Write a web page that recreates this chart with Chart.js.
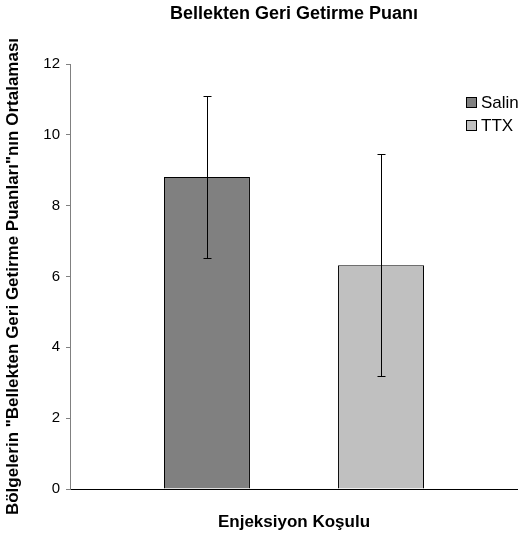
<!DOCTYPE html>
<html>
<head>
<meta charset="utf-8">
<script src="https://cdn.jsdelivr.net/npm/chart.js@4.4.0/dist/chart.umd.min.js"></script>
<style>
  html, body { margin: 0; padding: 0; background: #ffffff; }
  #wrap { width: 518px; height: 536px; overflow: hidden; }
</style>
</head>
<body>
<div id="wrap"><canvas id="c" width="518" height="536"></canvas></div>
<script>
// ---- Data ----
const categories = [''];
const seriesNames = ['Salin', 'TTX'];
const salinMean = [8.81];
const ttxMean = [6.32];
const salinErrLow = [6.52];
const salinErrHigh = [11.10];
const ttxErrLow = [3.19];
const ttxErrHigh = [9.46];
const yTicks = [0, 2, 4, 6, 8, 10, 12];
const chartTitle = 'Bellekten Geri Getirme Puanı';
const xTitle = 'Enjeksiyon Koşulu';
const yTitle = 'Bölgelerin "Bellekten Geri Getirme Puanları"nın Ortalaması';

const FONT = "'Liberation Sans', Arial, sans-serif";
const errLows = [salinErrLow, ttxErrLow];
const errHighs = [salinErrHigh, ttxErrHigh];

const errorBarPlugin = {
  id: 'errorBars',
  afterDatasetsDraw(chart) {
    const ctx = chart.ctx;
    const yScale = chart.scales.y;
    ctx.save();
    ctx.strokeStyle = '#000000';
    ctx.lineWidth = 1;
    chart.data.datasets.forEach((ds, i) => {
      const meta = chart.getDatasetMeta(i);
      meta.data.forEach((el, j) => {
        const x = Math.round(el.x) + 0.5;
        const yH = Math.round(yScale.getPixelForValue(errHighs[i][j])) + 0.5;
        const yL = Math.round(yScale.getPixelForValue(errLows[i][j])) + 0.5;
        ctx.beginPath();
        ctx.moveTo(x, yH); ctx.lineTo(x, yL);
        ctx.moveTo(x - 4, yH); ctx.lineTo(x + 4, yH);
        ctx.moveTo(x - 4, yL); ctx.lineTo(x + 4, yL);
        ctx.stroke();
      });
    });
    ctx.restore();
  }
};

const legendPlugin = {
  id: 'overlayLegend',
  afterDraw(chart) {
    const ctx = chart.ctx;
    ctx.save();
    ctx.font = '17px ' + FONT;
    ctx.textBaseline = 'middle';
    ctx.textAlign = 'left';
    chart.data.datasets.forEach((ds, i) => {
      const bx = 466, by = 97 + i * 23;
      ctx.fillStyle = ds.backgroundColor;
      ctx.fillRect(bx, by, 11, 11);
      ctx.strokeStyle = '#000000';
      ctx.lineWidth = 1;
      ctx.strokeRect(bx + 0.5, by + 0.5, 10, 10);
      ctx.fillStyle = '#000000';
      ctx.fillText(ds.label, bx + 15, by + 6.5);
    });
    ctx.restore();
  }
};

new Chart(document.getElementById('c'), {
  type: 'bar',
  data: {
    labels: categories,
    datasets: [
      { label: seriesNames[0], data: salinMean, backgroundColor: '#808080', borderColor: '#000000', borderWidth: 1 },
      { label: seriesNames[1], data: ttxMean, backgroundColor: '#c0c0c0', borderColor: '#000000', borderWidth: 1 }
    ]
  },
  options: {
    responsive: false,
    animation: false,
    devicePixelRatio: 1,
    layout: { padding: { left: 0, top: 0, bottom: 0, right: -5 } },
    categoryPercentage: 0.777,
    barPercentage: 0.494,
    plugins: {
      legend: { display: false },
      tooltip: { enabled: false },
      title: {
        display: true,
        text: chartTitle,
        fullSize: false,
        color: '#000000',
        font: { family: FONT, size: 18, weight: 'bold' },
        padding: { top: 3, bottom: 39.4 }
      }
    },
    scales: {
      x: {
        grid: { display: false },
        border: { display: true, color: '#000000', width: 1 },
        ticks: { display: false },
        title: {
          display: true,
          text: xTitle,
          color: '#000000',
          font: { family: FONT, size: 17, weight: 'bold' },
          padding: { top: 0, bottom: 3 }
        },
        afterFit(scale) { scale.height = 47; }
      },
      y: {
        min: 0,
        max: 12,
        afterBuildTicks(scale) { scale.ticks = yTicks.map(v => ({ value: v })); },
        grid: { display: true, drawOnChartArea: false, drawTicks: true, tickLength: 4, color: '#808080' },
        border: { display: true, color: '#808080', width: 1 },
        ticks: {
          color: '#000000',
          padding: 6,
          font: { family: FONT, size: 15 }
        },
        title: {
          display: true,
          text: yTitle,
          color: '#000000',
          font: { family: FONT, size: 17, weight: 'bold' },
          padding: { top: 3, bottom: 0 }
        },
        afterFit(scale) { scale.width = 70; }
      }
    }
  },
  plugins: [errorBarPlugin, legendPlugin]
});
</script>
</body>
</html>
